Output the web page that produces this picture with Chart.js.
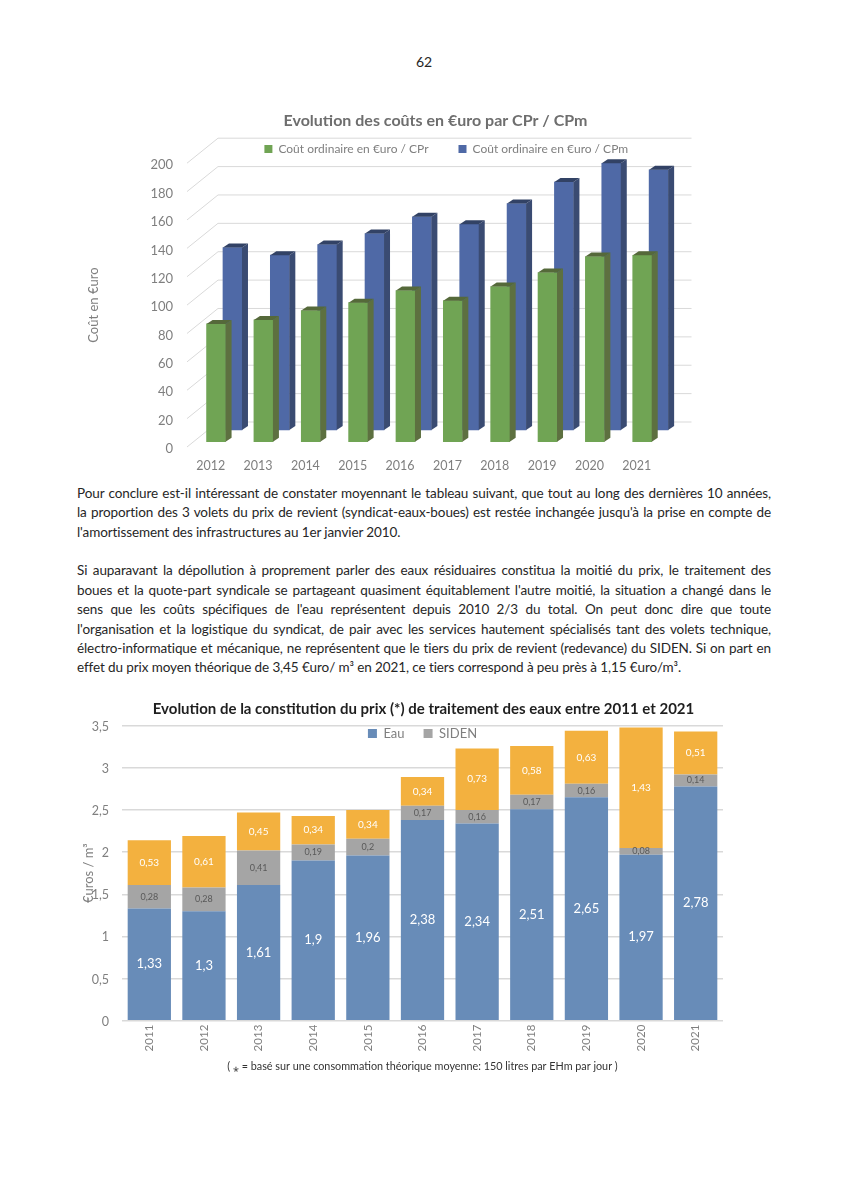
<!DOCTYPE html>
<html lang="fr">
<head>
<meta charset="utf-8">
<title>Evolution des coûts</title>
<script src="https://cdn.jsdelivr.net/npm/chart.js@4"></script>
<style>
  html, body { margin: 0; padding: 0; background: #fff; }
  body { position: relative; width: 848px; height: 1199px; overflow: hidden; font-family: Lato, sans-serif; color: #262626; }
  canvas { position: absolute; }
  .num { position: absolute; left: 0; width: 848px; top: 53px; text-align: center; font-size: 14px; }
  .ln { position: absolute; left: 77px; width: 694px; font-size: 13.5px; line-height: 18px; white-space: nowrap; text-align: justify; text-align-last: justify; letter-spacing: -0.1px; }
  .ln.end { text-align-last: left; }
</style>
</head>
<body>
<div class="num">62</div>
<canvas id="chartCout" width="700" height="380" style="left:70px;top:100px"></canvas>
<div class="ln" style="top:484px">Pour conclure est-il intéressant de constater moyennant le tableau suivant, que tout au long des dernières 10 années,</div>
<div class="ln" style="top:503px">la proportion des 3 volets du prix de revient (syndicat-eaux-boues) est restée inchangée jusqu'à la prise en compte de</div>
<div class="ln end" style="top:523px">l'amortissement des infrastructures au 1er janvier 2010.</div>
<div class="ln" style="top:561px">Si auparavant la dépollution à proprement parler des eaux résiduaires constitua la moitié du prix, le traitement des</div>
<div class="ln" style="top:581px">boues et la quote-part syndicale se partageant quasiment équitablement l'autre moitié, la situation a changé dans le</div>
<div class="ln" style="top:600px">sens que les coûts spécifiques de l'eau représentent depuis 2010 2/3 du total. On peut donc dire que toute</div>
<div class="ln" style="top:620px">l'organisation et la logistique du syndicat, de pair avec les services hautement spécialisés tant des volets technique,</div>
<div class="ln" style="top:639px">électro-informatique et mécanique, ne représentent que le tiers du prix de revient (redevance) du SIDEN. Si on part en</div>
<div class="ln end" style="top:658px">effet du prix moyen théorique de 3,45 €uro/ m³ en 2021, ce tiers correspond à peu près à 1,15 €uro/m³.</div>
<canvas id="chartPrix" width="720" height="390" style="left:70px;top:690px"></canvas>

<script>
// premier graphique
var anneesCout = ["2012","2013","2014","2015","2016","2017","2018","2019","2020","2021"];
var coutCPr = [83, 85.8, 92.4, 98, 106.5, 99.4, 109.3, 119.2, 130.5, 131.4];
var coutCPm = [128.6, 123.2, 130.7, 138.5, 150.2, 145, 159.6, 174.8, 188, 183.4];

// deuxieme graphique
var anneesPrix = ["2011","2012","2013","2014","2015","2016","2017","2018","2019","2020","2021"];
var prixEau = [1.33, 1.3, 1.61, 1.9, 1.96, 2.38, 2.34, 2.51, 2.65, 1.97, 2.78];
var prixSiden = [0.28, 0.28, 0.41, 0.19, 0.2, 0.17, 0.16, 0.17, 0.16, 0.08, 0.14];
var prixAutre = [0.53, 0.61, 0.45, 0.34, 0.34, 0.34, 0.73, 0.58, 0.63, 1.43, 0.51];

var gris = "#7f7f7f";
var police = "Lato, sans-serif";

function virgule(v) {
  return String(v).replace(".", ",");
}

// replace titre et legende (la legende ne prend pas de place dans le layout)
var placement = {
  id: "placement",
  afterLayout: function(chart, args, opts) {
    var t = chart.titleBlock, l = chart.legend;
    var w = chart.width;
    t.left = opts.titreX - w / 2; t.right = opts.titreX + w / 2;
    l.left += opts.legendeDx; l.right += opts.legendeDx;
    l.top = opts.legendeY; l.bottom = opts.legendeY + 70;
  }
};

// faux 3D du premier graphique : decalage en profondeur de chaque serie
var profondeur = [{dx: 5.4, dy: -5.3}, {dx: 21.8, dy: -17}];
var cote = {dx: 6, dy: -4};
var couleursCote = [{side: "#5d7040", top: "#55693a"}, {side: "#3a4b72", top: "#324265"}];
var mur = {dx: 31, dy: -25};

var barres3d = {
  id: "barres3d",
  beforeDatasetsDraw: function(chart) {
    var ctx = chart.ctx, y = chart.scales.y, a = chart.chartArea;
    ctx.save();
    ctx.strokeStyle = "#d9d9d9";
    ctx.lineWidth = 1;
    y.ticks.forEach(function(t) {
      var py = y.getPixelForValue(t.value);
      ctx.beginPath();
      ctx.moveTo(a.left, py);
      ctx.lineTo(a.left + mur.dx, py + mur.dy);
      ctx.lineTo(a.right + mur.dx, py + mur.dy);
      ctx.stroke();
    });
    ctx.restore();
  },
  beforeDatasetDraw: function(chart, args) {
    var p = profondeur[args.index];
    chart.ctx.save();
    chart.ctx.translate(p.dx, p.dy);
  },
  afterDatasetDraw: function(chart, args) {
    var ctx = chart.ctx, c = couleursCote[args.index];
    args.meta.data.forEach(function(bar) {
      var d = bar.x + bar.width / 2, g = bar.x - bar.width / 2;
      ctx.fillStyle = c.side;
      ctx.beginPath();
      ctx.moveTo(d, bar.y);
      ctx.lineTo(d + cote.dx, bar.y + cote.dy);
      ctx.lineTo(d + cote.dx, bar.base + cote.dy);
      ctx.lineTo(d, bar.base);
      ctx.fill();
      ctx.fillStyle = c.top;
      ctx.beginPath();
      ctx.moveTo(g, bar.y);
      ctx.lineTo(g + cote.dx, bar.y + cote.dy);
      ctx.lineTo(d + cote.dx, bar.y + cote.dy);
      ctx.lineTo(d, bar.y);
      ctx.fill();
    });
    ctx.restore();
  }
};

new Chart(document.getElementById("chartCout"), {
  type: "bar",
  data: {
    labels: anneesCout,
    datasets: [
      {label: "Coût ordinaire en €uro / CPr", data: coutCPr, backgroundColor: "#70a454", clip: false},
      {label: "Coût ordinaire en €uro / CPm", data: coutCPm, backgroundColor: "#4f69a6", clip: false}
    ]
  },
  plugins: [placement, barres3d],
  options: {
    responsive: false,
    animation: false,
    grouped: false,
    barThickness: 19,
    layout: {padding: {right: 109.5}},
    plugins: {
      placement: {titreX: 365.5, legendeDx: 81, legendeY: 13},
      title: {
        display: true,
        text: "Evolution des coûts en €uro par CPr / CPm",
        color: "#6e6e6e",
        font: {family: police, size: 16, weight: "bold"},
        padding: {top: 11, bottom: 32}
      },
      legend: {
        maxHeight: 1,
        labels: {color: gris, boxWidth: 8, boxHeight: 8, padding: 30, font: {family: police, size: 12}}
      },
      tooltip: {enabled: false}
    },
    scales: {
      x: {
        grid: {display: false, drawTicks: false},
        border: {display: false},
        afterFit: function(s) { s.height = 33; },
        ticks: {color: gris, padding: 11, autoSkip: false, maxRotation: 0, font: {family: police, size: 12.5}}
      },
      y: {
        min: 0,
        max: 200,
        grid: {display: false, drawTicks: false},
        border: {display: false},
        afterFit: function(s) { s.width = 117; },
        ticks: {color: gris, stepSize: 20, padding: 14, labelOffset: 2, font: {family: police, size: 13}},
        title: {display: true, text: "Coût en €uro", color: gris, padding: {top: 16, bottom: 0}, font: {family: police, size: 13}}
      }
    }
  }
});

// valeurs ecrites au milieu de chaque bloc
var stylesValeurs = [
  {color: "#ffffff", font: "13px " + police},
  {color: "#595959", font: "9px " + police},
  {color: "#ffffff", font: "10px " + police}
];

var valeurs = {
  id: "valeurs",
  afterDatasetsDraw: function(chart) {
    var ctx = chart.ctx;
    ctx.save();
    ctx.textAlign = "center";
    ctx.textBaseline = "middle";
    chart.data.datasets.forEach(function(ds, i) {
      ctx.fillStyle = stylesValeurs[i].color;
      ctx.font = stylesValeurs[i].font;
      chart.getDatasetMeta(i).data.forEach(function(bar, j) {
        ctx.fillText(virgule(ds.data[j]), bar.x, (bar.y + bar.base) / 2);
      });
    });
    ctx.restore();
  }
};

new Chart(document.getElementById("chartPrix"), {
  type: "bar",
  data: {
    labels: anneesPrix,
    datasets: [
      {label: "Eau", data: prixEau, backgroundColor: "#688cb8"},
      {label: "SIDEN", data: prixSiden, backgroundColor: "#a5a5a5"},
      {label: "", data: prixAutre, backgroundColor: "#f3b13f"}
    ]
  },
  plugins: [placement, valeurs],
  options: {
    responsive: false,
    animation: false,
    categoryPercentage: 1,
    barPercentage: 0.792,
    layout: {padding: {right: 67}},
    plugins: {
      placement: {titreX: 353.5, legendeDx: 26, legendeY: 18},
      title: {
        display: true,
        text: "Evolution de la constitution du prix (*) de traitement des eaux entre 2011 et 2021",
        color: "#1f1f1f",
        font: {family: police, size: 15, weight: "bold"},
        padding: {top: 10.5, bottom: 6.2}
      },
      legend: {
        maxHeight: 1,
        labels: {
          color: gris, boxWidth: 9, boxHeight: 9, padding: 19, font: {family: police, size: 13},
          filter: function(item) { return item.text !== ""; }
        }
      },
      tooltip: {enabled: false}
    },
    scales: {
      x: {
        stacked: true,
        grid: {display: false, drawTicks: false},
        border: {display: false},
        afterFit: function(s) { s.height = 59.3; },
        ticks: {color: gris, padding: 4, autoSkip: false, minRotation: 90, maxRotation: 90, font: {family: police, size: 11.5}},
        title: {
          display: true,
          text: "( ⁎ = basé sur une consommation théorique moyenne: 150 litres par EHm par jour )",
          color: "#333333",
          padding: {top: 0, bottom: 7},
          font: {family: police, size: 10.8}
        }
      },
      y: {
        stacked: true,
        min: 0,
        max: 3.5,
        grid: {color: "#d9d9d9", lineWidth: 1.5, drawTicks: false},
        border: {display: false},
        afterFit: function(s) { s.width = 52; },
        ticks: {
          color: gris, stepSize: 0.5, padding: 13, labelOffset: 1, font: {family: police, size: 12.5},
          callback: function(v) { return virgule(v); }
        },
        title: {display: true, text: "€uros / m³", color: gris, padding: {top: 11, bottom: 0}, font: {family: police, size: 13}}
      }
    }
  }
});
</script>
</body>
</html>
